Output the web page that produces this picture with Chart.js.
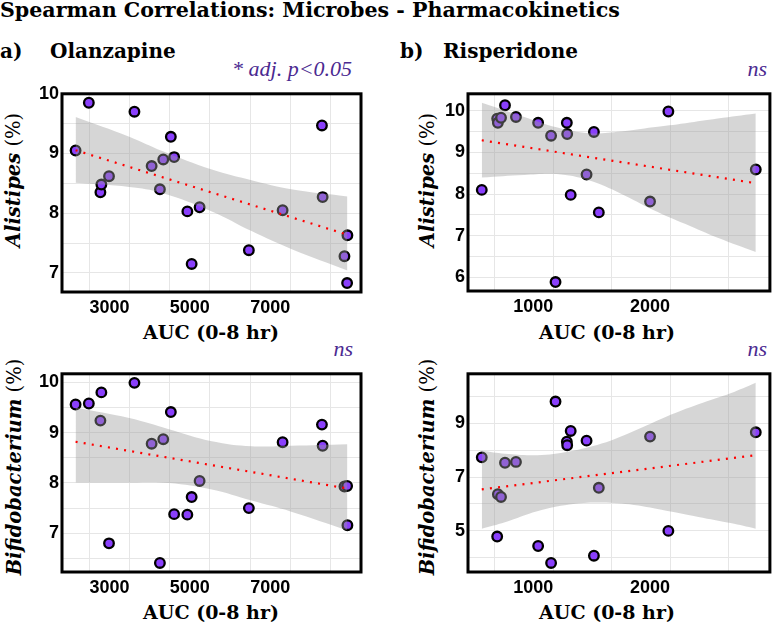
<!DOCTYPE html>
<html>
<head>
<meta charset="utf-8">
<script src="https://cdn.jsdelivr.net/npm/chart.js@4.4.1/dist/chart.umd.min.js"></script>
<style>
    body { margin: 0; background: #fff; width: 777px; height: 624px; position: relative; overflow: hidden; font-family: "DejaVu Serif", serif; color: #000; }
    .txt { position: absolute; white-space: nowrap; line-height: 1; }
    .negrita { font-weight: bold; font-size: 20px; }
    .titulo { font-weight: bold; font-size: 20.6px; }
    .nota { font-family: "Liberation Serif", serif; font-style: italic; font-size: 22px; color: #4b2a91; }
    .xtitulo { font-weight: bold; font-size: 19px; transform: translateX(-50%); }
    .ytitulo { position: absolute; white-space: nowrap; line-height: 1; font-size: 19.5px; transform: translate(-50%, -50%) rotate(-90deg); }
    .ytitulo b { font-style: italic; }
    canvas { position: absolute; }
</style>
</head>
<body>
<div class="txt titulo" style="left:0;top:0">Spearman Correlations: Microbes - Pharmacokinetics</div>
<div class="txt negrita" style="left:0;top:41px">a)</div>
<div class="txt negrita" style="left:50px;top:41px">Olanzapine</div>
<div class="txt negrita" style="left:400px;top:41px">b)</div>
<div class="txt negrita" style="left:443px;top:41px">Risperidone</div>

<div class="txt nota" style="right:425px;top:58px">* adj. p&lt;0.05</div>
<div class="txt nota" style="right:10px;top:58px">ns</div>
<div class="txt nota" style="right:424px;top:338px">ns</div>
<div class="txt nota" style="right:10px;top:338px">ns</div>

<div class="ytitulo" style="left:14px;top:180px"><b>Alistipes</b> (%)</div>
<div class="ytitulo" style="left:428px;top:180px"><b>Alistipes</b> (%)</div>
<div class="ytitulo" style="left:15px;top:467px"><b>Bifidobacterium</b> (%)</div>
<div class="ytitulo" style="left:428px;top:467px"><b>Bifidobacterium</b> (%)</div>

<div class="txt xtitulo" style="left:211px;top:323px">AUC (0-8 hr)</div>
<div class="txt xtitulo" style="left:607px;top:323px">AUC (0-8 hr)</div>
<div class="txt xtitulo" style="left:211px;top:603px">AUC (0-8 hr)</div>
<div class="txt xtitulo" style="left:607px;top:603px">AUC (0-8 hr)</div>

<canvas id="olzAlistipes" width="380" height="235" style="left:0;top:80px"></canvas>
<canvas id="risAlistipes" width="397" height="235" style="left:380px;top:80px"></canvas>
<canvas id="olzBifido" width="380" height="235" style="left:0;top:360px"></canvas>
<canvas id="risBifido" width="397" height="235" style="left:380px;top:360px"></canvas>

<script>
// Olanzapina: AUC (0-8 hr) por paciente y abundancias (%)
const aucOlz = [1658, 1988, 2276, 2300, 2490, 3123, 3551, 3757, 3840, 4029, 4111, 4440, 4547, 4745, 5971, 6811, 7790, 7807, 8350, 8416, 8424];
const alistipesOlz = [9.05, 9.85, 8.35, 8.48, 8.62, 9.70, 8.79, 8.40, 8.90, 9.28, 8.94, 8.03, 7.15, 8.10, 7.38, 8.05, 9.47, 8.27, 7.28, 6.83, 7.63];
const bifidoOlz = [9.56, 9.58, 9.24, 9.80, 6.80, 9.99, 8.78, 6.41, 8.87, 9.41, 7.38, 7.37, 7.72, 8.04, 7.50, 8.81, 9.16, 8.74, 7.93, 7.94, 7.16];

// Risperidona
const aucRis = [387, 519, 525, 552, 586, 680, 870, 981, 1019, 1116, 1119, 1149, 1285, 1348, 1390, 1829, 1986, 2735];
const alistipesRis = [8.10, 9.81, 9.71, 9.83, 10.13, 9.85, 9.71, 9.40, 5.89, 9.71, 9.44, 7.98, 8.47, 9.49, 7.56, 7.82, 9.98, 8.59];
const bifidoRis = [7.73, 4.79, 6.36, 6.26, 7.53, 7.56, 4.44, 3.81, 9.80, 8.31, 8.18, 8.71, 8.35, 4.08, 6.60, 8.50, 5.00, 8.66];

// Ajuste lineal: extremos de la recta y banda de confianza
const rectaOlzAliX = [1658, 8424];
const rectaOlzAliY = [9.055, 7.64];
const bandaOlzAliX = [1658, 2993, 3815, 5050, 6038, 7025, 8424];
const bandaOlzAliSup = [9.61, 9.28, 9.04, 8.73, 8.55, 8.40, 8.28];
const bandaOlzAliInf = [8.51, 8.44, 8.34, 8.03, 7.70, 7.40, 7.04];

const rectaOlzBifX = [1658, 8424];
const rectaOlzBifY = [8.82, 7.89];
const bandaOlzBifX = [1658, 2993, 3981, 5050, 6038, 7025, 8424];
const bandaOlzBifSup = [9.50, 9.29, 9.07, 8.83, 8.73, 8.74, 8.77];
const bandaOlzBifInf = [8.01, 8.01, 8.00, 7.87, 7.65, 7.43, 7.06];

const rectaRisAliX = [387, 2735];
const rectaRisAliY = [9.29, 8.26];
const bandaRisAliX = [387, 751, 1028, 1304, 1580, 1856, 2133, 2409, 2735];
const bandaRisAliSup = [10.19, 9.85, 9.60, 9.46, 9.50, 9.60, 9.70, 9.81, 9.93];
const bandaRisAliInf = [8.40, 8.46, 8.48, 8.33, 8.01, 7.62, 7.28, 6.95, 6.61];

const rectaRisBifX = [387, 2735];
const rectaRisBifY = [6.54, 7.81];
const bandaRisBifX = [387, 586, 862, 1138, 1414, 1691, 1967, 2243, 2519, 2735];
const bandaRisBifSup = [7.97, 7.86, 7.81, 7.95, 8.24, 8.71, 9.24, 9.70, 10.11, 10.50];
const bandaRisBifInf = [5.08, 5.32, 5.73, 5.98, 6.05, 5.96, 5.75, 5.52, 5.29, 5.08];

// Ejes: lineas de rejilla y etiquetas
const gridAucOlz = [2000, 3000, 4000, 5000, 6000, 7000, 8000];
const etiquetasAucOlz = [3000, 5000, 7000];
const gridAucRis = [500, 1000, 1500, 2000, 2500];
const etiquetasAucRis = [1000, 2000];
const gridOlzAli = [7, 7.5, 8, 8.5, 9, 9.5, 10];
const gridOlzBif = [6.5, 7, 7.5, 8, 8.5, 9, 9.5, 10];
const etiquetasOlz = [7, 8, 9, 10];
const gridRisAli = [6, 6.5, 7, 7.5, 8, 8.5, 9, 9.5, 10];
const etiquetasRisAli = [6, 7, 8, 9, 10];
const gridRisBif = [4, 5, 6, 7, 8, 9, 10];
const etiquetasRisBif = [5, 7, 9];

// Marco negro grueso alrededor del panel
const marcoPanel = {
    id: 'marcoPanel',
    afterDraw(chart) {
        const { ctx, chartArea: a } = chart;
        ctx.save();
        ctx.strokeStyle = '#000';
        ctx.lineWidth = 3;
        ctx.strokeRect(a.left, a.top, a.right - a.left, a.bottom - a.top);
        ctx.restore();
    }
};

const fuenteTicks = { family: 'Liberation Sans', size: 18, weight: 'bold' };

function pares(xs, ys) {
    return xs.map((x, i) => ({ x: x, y: ys[i] }));
}

function crearPanel(id, cfg) {
    const ctx = document.getElementById(id).getContext('2d');
    return new Chart(ctx, {
        type: 'line',
        data: {
            datasets: [{
                // recta de regresion punteada
                data: pares(cfg.rectaX, cfg.rectaY),
                borderColor: '#ff0000',
                borderWidth: 2.2,
                borderDash: [2, 6.2],
                pointRadius: 0,
                fill: false,
                order: 0
            }, {
                data: pares(cfg.bandaX, cfg.bandaInf),
                borderColor: 'rgba(0,0,0,0)',
                borderWidth: 0,
                pointRadius: 0,
                tension: 0.4,
                fill: false,
                order: 2
            }, {
                data: pares(cfg.bandaX, cfg.bandaSup),
                borderColor: 'rgba(0,0,0,0)',
                borderWidth: 0,
                pointRadius: 0,
                tension: 0.4,
                backgroundColor: 'rgba(153,153,153,0.4)',
                fill: '-1',
                order: 1
            }, {
                data: pares(cfg.auc, cfg.valores),
                showLine: false,
                pointRadius: 4.8,
                pointBorderWidth: 2.3,
                pointBackgroundColor: '#8a3ffc',
                pointBorderColor: '#000',
                order: 3
            }]
        },
        options: {
            responsive: false,
            animation: false,
            events: [],
            layout: { padding: { left: 0, top: cfg.padTop, right: cfg.padRight, bottom: 0 } },
            plugins: { legend: { display: false }, tooltip: { enabled: false } },
            scales: {
                x: {
                    type: 'linear',
                    min: cfg.xMin,
                    max: cfg.xMax,
                    afterBuildTicks: s => { s.ticks = cfg.gridX.map(v => ({ value: v })); },
                    afterFit: s => { s.height = cfg.altoEjeX; },
                    grid: { color: '#e6e6e6', lineWidth: 1, drawTicks: false },
                    border: { display: false },
                    ticks: {
                        align: 'end',
                        padding: 5,
                        maxRotation: 0,
                        autoSkip: false,
                        color: '#000',
                        font: fuenteTicks,
                        callback: v => cfg.etiquetasX.includes(v) ? String(v) : ''
                    }
                },
                y: {
                    min: cfg.yMin,
                    max: cfg.yMax,
                    afterBuildTicks: s => { s.ticks = cfg.gridY.map(v => ({ value: v })); },
                    afterFit: s => { s.width = cfg.anchoEjeY; },
                    grid: { color: '#e6e6e6', lineWidth: 1, drawTicks: false },
                    border: { display: false },
                    ticks: {
                        padding: 3,
                        autoSkip: false,
                        color: '#000',
                        font: fuenteTicks,
                        callback: v => cfg.etiquetasY.includes(v) ? String(v) : ''
                    }
                }
            }
        },
        plugins: [marcoPanel]
    });
}

crearPanel('olzAlistipes', {
    auc: aucOlz, valores: alistipesOlz,
    rectaX: rectaOlzAliX, rectaY: rectaOlzAliY,
    bandaX: bandaOlzAliX, bandaSup: bandaOlzAliSup, bandaInf: bandaOlzAliInf,
    xMin: 1320, xMax: 8762, gridX: gridAucOlz, etiquetasX: etiquetasAucOlz,
    yMin: 6.68, yMax: 10.0, gridY: gridOlzAli, etiquetasY: etiquetasOlz,
    padTop: 6, padRight: 19, anchoEjeY: 62, altoEjeX: 23
});

crearPanel('risAlistipes', {
    auc: aucRis, valores: alistipesRis,
    rectaX: rectaRisAliX, rectaY: rectaRisAliY,
    bandaX: bandaRisAliX, bandaSup: bandaRisAliSup, bandaInf: bandaRisAliInf,
    xMin: 269, xMax: 2856, gridX: gridAucRis, etiquetasX: etiquetasAucRis,
    yMin: 5.675, yMax: 10.405, gridY: gridRisAli, etiquetasY: etiquetasRisAli,
    padTop: 5, padRight: 3, anchoEjeY: 88, altoEjeX: 24
});

crearPanel('olzBifido', {
    auc: aucOlz, valores: bifidoOlz,
    rectaX: rectaOlzBifX, rectaY: rectaOlzBifY,
    bandaX: bandaOlzBifX, bandaSup: bandaOlzBifSup, bandaInf: bandaOlzBifInf,
    xMin: 1320, xMax: 8762, gridX: gridAucOlz, etiquetasX: etiquetasAucOlz,
    yMin: 6.23, yMax: 10.17, gridY: gridOlzBif, etiquetasY: etiquetasOlz,
    padTop: 6, padRight: 19, anchoEjeY: 62, altoEjeX: 23
});

crearPanel('risBifido', {
    auc: aucRis, valores: bifidoRis,
    rectaX: rectaRisBifX, rectaY: rectaRisBifY,
    bandaX: bandaRisBifX, bandaSup: bandaRisBifSup, bandaInf: bandaRisBifInf,
    xMin: 269, xMax: 2856, gridX: gridAucRis, etiquetasX: etiquetasAucRis,
    yMin: 3.475, yMax: 10.83, gridY: gridRisBif, etiquetasY: etiquetasRisBif,
    padTop: 4, padRight: 2, anchoEjeY: 88, altoEjeX: 23
});
</script>
</body>
</html>
